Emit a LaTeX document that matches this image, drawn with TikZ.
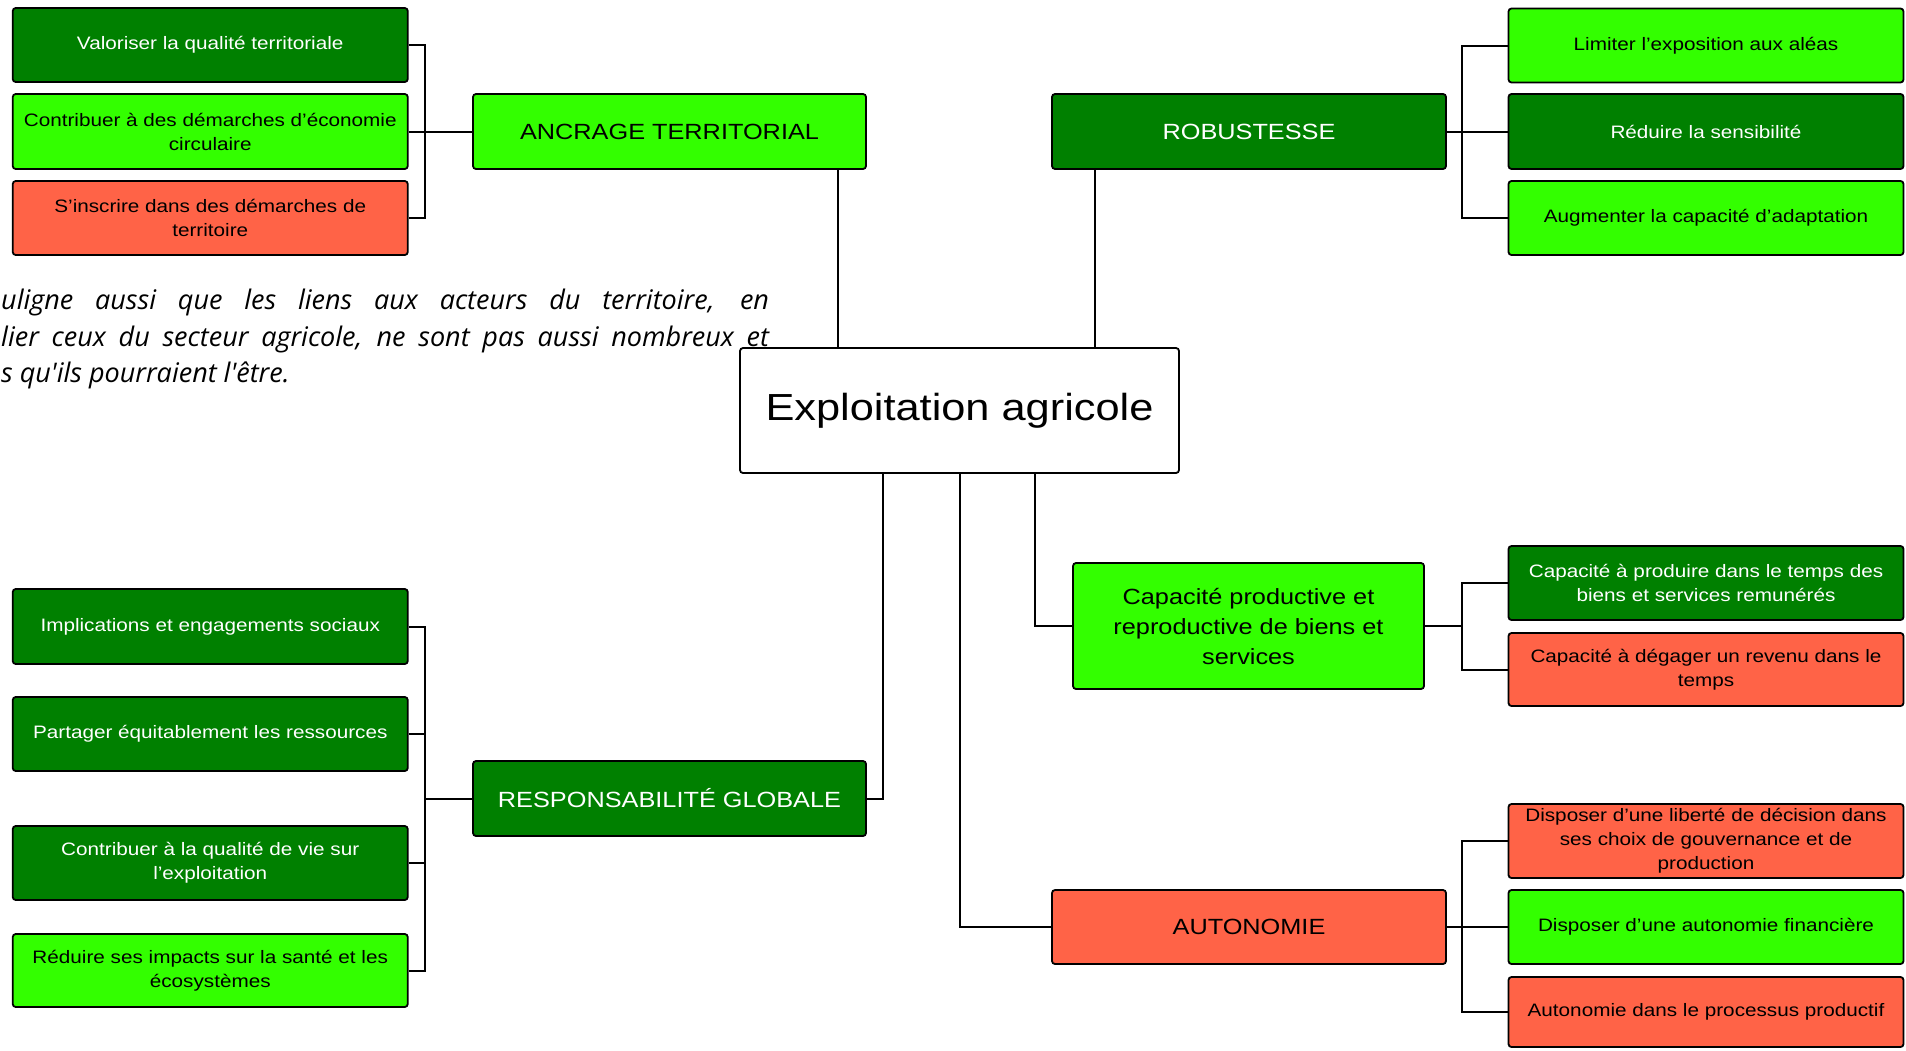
\documentclass[tikz,border=0pt]{standalone}
\usepackage{fontspec}
\setmainfont{Liberation Sans}[FakeStretch=1.15]
\newfontfamily\osfont{Open Sans}
\definecolor{dkg}{RGB}{0,128,0}
\definecolor{ltg}{RGB}{51,255,0}
\definecolor{rdc}{RGB}{255,99,71}
\tikzset{
  box/.style={draw=black, line width=1.8pt, rounded corners=3pt, align=center, inner sep=2pt,
    font=\fontsize{18pt}{24pt}\selectfont},
  dg/.style={box, fill=dkg, text=white},
  lg/.style={box, fill=ltg, text=black},
  rd/.style={box, fill=rdc, text=black},
  child/.style={minimum width=395pt, minimum height=74pt},
  head/.style={minimum width=393pt, minimum height=75pt, font=\fontsize{22pt}{30pt}\selectfont},
  link/.style={line width=2pt, draw=black},
  itxt/.style={inner sep=0pt, anchor=base west, font=\osfont\itshape\fontsize{27pt}{36pt}\selectfont}
}
\begin{document}
\begin{tikzpicture}[x=1pt, y=-1pt]
\useasboundingbox[fill=white] (0,0) rectangle (1906,1050);

% centre
\node[box, fill=white, minimum width=439pt, minimum height=125pt, font=\fontsize{37.7pt}{44pt}\selectfont] (expl) at (959.5,410.5) {Exploitation agricole};

% ANCRAGE TERRITORIAL
\node[lg, head] (anc) at (669.5,131.5) {ANCRAGE TERRITORIAL};
\node[dg, child] (a1) at (210.25,45) {Valoriser la qualité territoriale};
\node[lg, child, minimum height=75pt] (a2) at (210.25,131.5) {Contribuer à des démarches d’économie\\circulaire};
\node[rd, child] (a3) at (210.25,218) {S’inscrire dans des démarches de\\territoire};
\coordinate (bA) at (425,131.5);
\draw[link] (a1.east) -| (bA) |- (a3.east);
\draw[link] (a2.east) -- (anc.west);
\draw[link] ([xshift=168.5pt]anc.south) -- ([xshift=168.5pt]anc.south |- expl.north);

% ROBUSTESSE
\node[dg, head, minimum width=394pt] (rob) at (1249,131.5) {ROBUSTESSE};
\node[lg, child] (r1) at (1706,45.5) {Limiter l’exposition aux aléas};
\node[dg, child, minimum height=75pt] (r2) at (1706,131.5) {Réduire la sensibilité};
\node[lg, child] (r3) at (1706,218) {Augmenter la capacité d’adaptation};
\coordinate (bR) at (1462,131.5);
\draw[link] (r1.west) -| (bR) |- (r3.west);
\draw[link] (rob.east) -- (r2.west);
\draw[link] ([xshift=-154pt]rob.south) -- ([xshift=-154pt]rob.south |- expl.north);

% Capacite productive
\node[lg, head, minimum width=351pt, minimum height=126pt] (cap) at (1248.5,626) {Capacité productive et\\reproductive de biens et\\services};
\node[dg, child] (c1) at (1706,583) {Capacité à produire dans le temps des\\biens et services remunérés};
\node[rd, child, minimum height=73pt] (c2) at (1706,669.5) {Capacité à dégager un revenu dans le\\temps};
\coordinate (bC) at (1462,626);
\draw[link] (c1.west) -| (bC) |- (c2.west);
\draw[link] (cap.east) -- (bC);
\draw[link] ([xshift=75.5pt]expl.south) |- (cap.west);

% AUTONOMIE
\node[rd, head, minimum width=394pt, minimum height=74pt] (aut) at (1249,927) {AUTONOMIE};
\node[rd, child] (u1) at (1706,841) {Disposer d’une liberté de décision dans\\ses choix de gouvernance et de\\production};
\node[lg, child] (u2) at (1706,927) {Disposer d’une autonomie financière};
\node[rd, child, minimum height=70pt] (u3) at (1706,1012) {Autonomie dans le processus productif};
\coordinate (bU) at (1462,927);
\draw[link] (u1.west) -| (bU) |- (u3.west);
\draw[link] (aut.east) -- (u2.west);
\draw[link] (expl.south) |- (aut.west);

% RESPONSABILITE GLOBALE
\node[dg, head] (resp) at (669.5,798.5) {RESPONSABILITÉ GLOBALE};
\node[dg, child, minimum height=75pt] (g1) at (210.25,626.5) {Implications et engagements sociaux};
\node[dg, child] (g2) at (210.25,734) {Partager équitablement les ressources};
\node[dg, child] (g3) at (210.25,863) {Contribuer à la qualité de vie sur\\l’exploitation};
\node[lg, child, minimum height=73pt] (g4) at (210.25,970.5) {Réduire ses impacts sur la santé et les\\écosystèmes};
\coordinate (bG) at (425,798.5);
\draw[link] (g1.east) -| (bG) |- (g4.east);
\draw[link] (g2.east) -- (g2.east -| bG);
\draw[link] (g3.east) -- (g3.east -| bG);
\draw[link] (bG) -- (resp.west);
\draw[link] ([xshift=-76.5pt]expl.south) |- (resp.east);

% italic text
\node[itxt] (t1) at (1,309) {\makebox[768pt][s]{uligne aussi que les liens aux acteurs du territoire, en}};
\node[itxt] (t2) at (1,346) {\makebox[768pt][s]{lier ceux du secteur agricole, ne sont pas aussi nombreux et}};
\node[itxt] (t3) at (1,382) {s qu'ils pourraient l'être.};
\end{tikzpicture}
\end{document}
